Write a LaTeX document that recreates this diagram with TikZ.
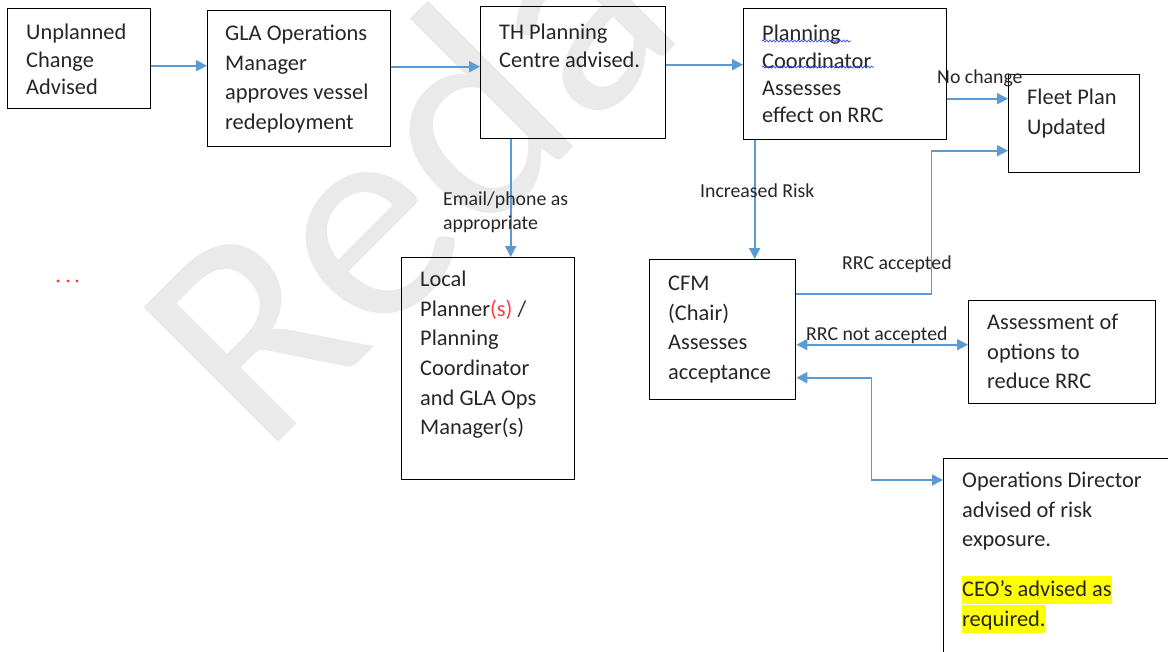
\documentclass[tikz,border=0pt]{standalone}
\usepackage{fontspec}
\setmainfont{Carlito}
\usepackage{tikz}
\usetikzlibrary{positioning}
\usetikzlibrary{arrows.meta}
\usetikzlibrary{calc}
\usetikzlibrary{decorations.pathmorphing}

\definecolor{flowblue}{HTML}{5B9BD5}
\definecolor{inkgrey}{HTML}{262626}
\definecolor{markgrey}{HTML}{EAEAEA}
\definecolor{hiyellow}{HTML}{FFFF00}
\definecolor{typored}{HTML}{FF3B3B}
\definecolor{spellblue}{HTML}{3050E0}

\newcommand\hilite[1]{{\setlength{\fboxsep}{0pt}\colorbox{hiyellow}{\rule[-7pt]{0pt}{28pt}#1}}}

\tikzset{
  box/.style={draw=black, line width=1.4pt, rectangle, anchor=north west, inner sep=0pt},
  body/.style={anchor=north west, inner sep=0pt, align=left, text=inkgrey, font=\fontsize{22.4}{29.6}\selectfont},
  bodytight/.style={body, font=\fontsize{22.4}{27.3}\selectfont},
  note/.style={anchor=north west, inner sep=0pt, align=left, text=inkgrey, font=\fontsize{19.8}{24}\selectfont},
  tip/.style={Triangle[length=11pt,width=11pt]},
  flow/.style={draw=flowblue, line width=1.8pt, -{Triangle[length=11pt,width=11pt]}},
  flowboth/.style={draw=flowblue, line width=1.8pt, {Triangle[length=11pt,width=11pt]}-{Triangle[length=11pt,width=11pt]}},
  spell/.style={draw=spellblue, line width=0.7pt, decorate, decoration={snake, amplitude=1pt, segment length=3.5pt}}
}

\begin{document}
\begin{tikzpicture}[x=1pt,y=-1pt]
	\useasboundingbox (0,0) rectangle (1168,651);
	\clip (0,0) rectangle (1168,651);

	% Watermark behind everything
	\node[rotate=45, anchor=base west, inner sep=0pt, text=markgrey,
	      font=\fontsize{297}{300}\selectfont] (mark) at (263,458) {Redacted};

	% Boxes
	\node[box, minimum width=143pt, minimum height=100pt] (unpl) at (7,8) {};
	\node[box, minimum width=183pt, minimum height=136pt] (gla) at (207,10) {};
	\node[box, minimum width=185pt, minimum height=132pt] (th) at (480,6) {};
	\node[box, minimum width=203pt, minimum height=131pt] (pc) at (743,8) {};
	\node[box, minimum width=131pt, minimum height=98pt] (fleet) at (1008,74) {};
	\node[box, minimum width=173pt, minimum height=222pt] (local) at (401,257) {};
	\node[box, minimum width=146pt, minimum height=140pt] (cfm) at (649,259) {};
	\node[box, minimum width=187pt, minimum height=103pt] (assess) at (968,300) {};
	\node[box, minimum width=260pt, minimum height=260pt] (ops) at (943,458) {};

	% Box texts
	\node[bodytight, below right=16pt and 19pt of unpl.north west] (unplT) {Unplanned\\Change\\Advised};
	\node[body, below right=15pt and 18pt of gla.north west] (glaT) {GLA Operations\\Manager\\approves vessel\\redeployment};
	\node[bodytight, below right=18pt and 19pt of th.north west] (thT) {TH Planning\\Centre advised.};
	\node[bodytight, below right=17pt and 19pt of pc.north west] (pcT) {Planning\\Coordinator\\Assesses\\effect on RRC};
	\node[body, below right=15pt and 19pt of fleet.north west] (fleetT) {Fleet Plan\\Updated};
	\node[body, below right=14pt and 19pt of local.north west] (localT) {Local\\Planner{\color{typored}(s)} /\\Planning\\Coordinator\\and GLA Ops\\Manager(s)};
	\node[body, below right=17pt and 19pt of cfm.north west] (cfmT) {CFM\\(Chair)\\Assesses\\acceptance};
	\node[body, below right=14pt and 19pt of assess.north west] (assessT) {Assessment of\\options to\\reduce RRC};
	\node[body, below right=14pt and 19pt of ops.north west] (opsT) {Operations Director\\advised of risk\\exposure.\\[20.4pt]\hilite{CEO’s advised as}\\\hilite{required.}};

	% Spelling marks
	\draw[spell] (762,41) -- (851,41);
	\draw[spell] (762,67) -- (874,67);
	\foreach \dx in {58,68,77}
	\fill[typored] (\dx,281) circle (1.6pt);

	% Connectors
	\draw[flow] ([yshift=-7pt]unpl.east) coordinate (a1) -- (a1 -| gla.west);
	\draw[flow] ([yshift=12pt]gla.east) coordinate (b1) -- (b1 -| th.west);
	\draw[flow] ([yshift=8pt]th.east) coordinate (c1) -- (c1 -| pc.west);
	\draw[flow] ([yshift=-24.5pt]pc.east) coordinate (d1) -- (d1 -| fleet.west);
	\draw[flow] ([xshift=-62.5pt]th.south) coordinate (e1) -- (e1 |- local.north);
	\draw[flow] ([xshift=-90.5pt]pc.south) coordinate (f1) -- (f1 |- cfm.north);
	\draw[flow] ([yshift=36pt]cfm.east) -- ++(135,0) |- ([yshift=-27pt]fleet.west);
	\draw[flowboth] ([yshift=7.5pt]assess.west) coordinate (h1) -- (h1 -| cfm.east);
	\draw[flowboth] ([yshift=-48pt]cfm.east) -- ++(75,0) |- ([yshift=-22pt]ops.north west);

	% Connector labels
	\node[note] (nochange) at (937,70) {No change};
	\node[note] (email) at (443,192) {Email/phone as\\appropriate};
	\node[note] (incr) at (700,184) {Increased Risk};
	\node[note] (rrcacc) at (842,256) {RRC accepted};
	\node[note] (rrcnot) at (806,327) {RRC not accepted};
\end{tikzpicture}
\end{document}
